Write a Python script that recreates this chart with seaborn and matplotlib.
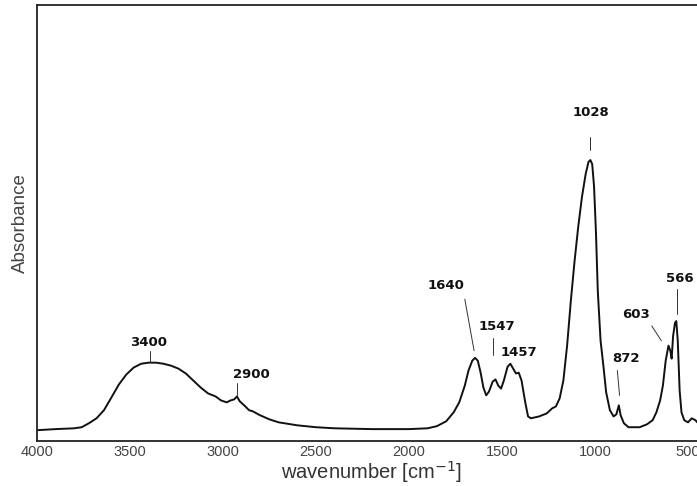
import numpy as np
import pandas as pd
import matplotlib
matplotlib.use("Agg")
import matplotlib.pyplot as plt
import seaborn as sns

# spectrum (wavenumber in cm-1, absorbance in arbitrary units)
wavenumber = [4000, 3900, 3800, 3760, 3720, 3680, 3640, 3600, 3560, 3520,
              3480, 3440, 3400, 3360, 3320, 3280, 3240, 3200, 3160, 3120,
              3080, 3040, 3010, 2980, 2960, 2940, 2925, 2910, 2880, 2860,
              2840, 2800, 2750, 2700, 2600, 2500, 2400, 2200, 2000, 1900,
              1850, 1800, 1760, 1730, 1700, 1680, 1660, 1645, 1630, 1615,
              1600, 1585, 1570, 1550, 1535, 1520, 1505, 1490, 1470, 1455,
              1440, 1425, 1410, 1395, 1375, 1360, 1345, 1300, 1260, 1230,
              1210, 1190, 1170, 1150, 1130, 1110, 1090, 1070, 1050, 1035,
              1025, 1015, 1005, 995, 985, 970, 955, 940, 920, 900,
              885, 872, 862, 845, 820, 790, 760, 720, 690, 670,
              650, 635, 620, 605, 595, 588, 580, 570, 563, 555,
              545, 535, 520, 500, 480, 460, 450, 400]
absorbance = [0.000, 0.004, 0.007, 0.011, 0.026, 0.044, 0.074, 0.121, 0.169, 0.206,
              0.232, 0.246, 0.250, 0.250, 0.246, 0.239, 0.228, 0.210, 0.184, 0.158,
              0.136, 0.125, 0.110, 0.103, 0.110, 0.114, 0.125, 0.107, 0.088, 0.074,
              0.070, 0.055, 0.040, 0.029, 0.018, 0.011, 0.007, 0.004, 0.004, 0.007,
              0.015, 0.033, 0.066, 0.103, 0.165, 0.221, 0.257, 0.268, 0.257, 0.213,
              0.158, 0.129, 0.143, 0.180, 0.188, 0.165, 0.154, 0.184, 0.235, 0.246,
              0.228, 0.210, 0.213, 0.184, 0.103, 0.051, 0.044, 0.051, 0.062, 0.081,
              0.088, 0.118, 0.184, 0.313, 0.478, 0.625, 0.754, 0.864, 0.949, 0.993,
              1.000, 0.985, 0.901, 0.735, 0.515, 0.331, 0.239, 0.140, 0.074, 0.051,
              0.059, 0.092, 0.055, 0.026, 0.011, 0.011, 0.011, 0.022, 0.037, 0.066,
              0.110, 0.165, 0.257, 0.313, 0.294, 0.265, 0.349, 0.397, 0.404, 0.331,
              0.147, 0.066, 0.037, 0.029, 0.044, 0.037, 0.029, 0.026]

# peak labels and where their text sits
peak_labels = ["3400", "2900", "1640", "1547", "1457", "1028", "872", "603", "566"]
text_x = [3400, 2850, 1800, 1530, 1410, 1020, 832, 780, 545]
text_y = [0.323, 0.206, 0.536, 0.383, 0.287, 1.176, 0.265, 0.430, 0.562]
# guide line ends
line_x0 = [3390, 2925, 1700, 1550, None, 1028, 880, 695, 560]
line_y0 = [0.294, 0.173, 0.485, 0.340, None, 1.085, 0.221, 0.386, 0.522]
line_x1 = [3390, 2925, 1650, 1550, None, 1028, 868, 643, 560]
line_y1 = [0.254, 0.125, 0.294, 0.280, None, 1.037, 0.129, 0.331, 0.430]

df = pd.DataFrame({"wavenumber": wavenumber, "absorbance": absorbance})

sns.set_style("white")
plt.rcParams['font.family'] = ['Liberation Sans', 'DejaVu Sans']

fig = plt.figure(figsize=(6.97, 4.86), dpi=100)
# axes run past the right edge of the picture, as in the original scan
ax = fig.add_axes([37 / 697, 45 / 486, 669.6 / 697, 436 / 486])

sns.lineplot(data=df, x="wavenumber", y="absorbance", ax=ax, sort=False,
             estimator=None, color="#111111", linewidth=1.4)

ax.set_xlim(4000, 400)
ax.set_ylim(-0.04, 1.574)
ax.set_xticks([4000, 3500, 3000, 2500, 2000, 1500, 1000, 500])
ax.set_yticks([])
ax.tick_params(axis="x", direction="in", length=5, width=1.2, pad=3,
               labelsize=10.5, labelcolor="#444444", color="#222222")
for side in ["left", "top", "bottom", "right"]:
    ax.spines[side].set_color("#222222")
    ax.spines[side].set_linewidth(1.3)

ax.set_xlabel("wavenumber [cm$^{-1}$]", fontsize=14.5, color="#333333", labelpad=0)
ax.set_ylabel("Absorbance", fontsize=13.5, color="#444444", labelpad=6)

for i, lab in enumerate(peak_labels):
    ax.text(text_x[i], text_y[i], lab, fontsize=9.5, fontweight="bold",
            family="DejaVu Sans", color="#111111", ha="center", va="center")
    if line_x0[i] is not None:
        ax.plot([line_x0[i], line_x1[i]], [line_y0[i], line_y1[i]],
                color="#333333", linewidth=0.7)

fig.savefig("out.png", dpi=100)
